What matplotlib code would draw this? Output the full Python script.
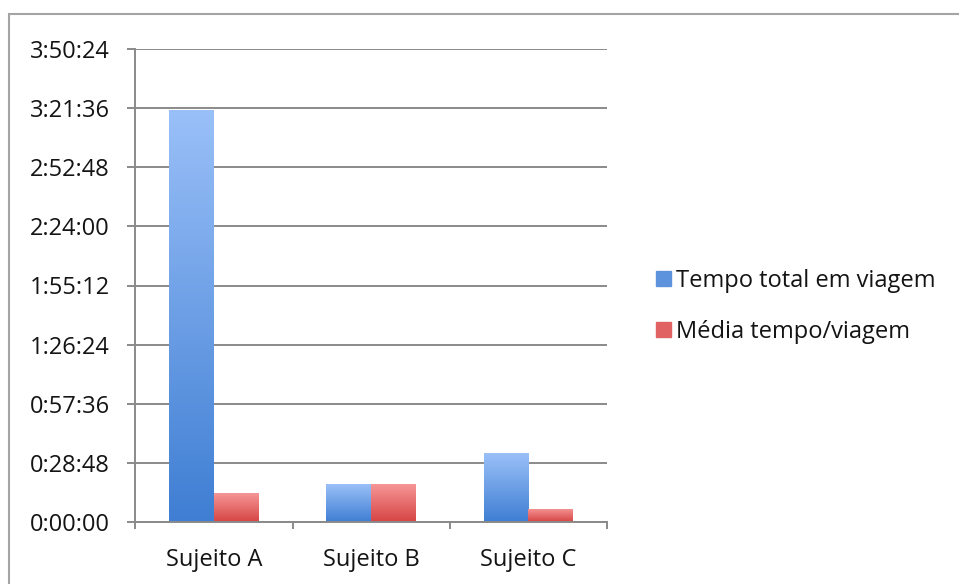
import matplotlib
matplotlib.use("Agg")
import matplotlib.pyplot as plt
import numpy as np
from matplotlib.patches import Rectangle
from matplotlib.ticker import FuncFormatter, FixedLocator
from matplotlib.colors import LinearSegmentedColormap

# Data (seconds)
categories = ["Sujeito A", "Sujeito B", "Sujeito C"]
series_names = ["Tempo total em viagem", "Média tempo/viagem"]
tempo_total = [12045, 1100, 2010]
media_tempo = [840, 1100, 380]
y_ticks = [0, 1728, 3456, 5184, 6912, 8640, 10368, 12096, 13824]

plt.rcParams['font.family'] = ['Open Sans', 'DejaVu Sans']
FS = 17

fig = plt.figure(figsize=(9.59, 5.84), dpi=100)
W, H = 959, 584
ax = fig.add_axes([135.3 / W, 1 - 522 / H, (607 - 135.3) / W, (522 - 49) / H])

x = np.arange(len(categories))
bw = 0.284
blue_grad = ("#9ac0f8", "#3f7ed3")
red_grad = ("#f69696", "#d64444")

b1 = ax.bar(x - bw / 2, tempo_total, bw, color=blue_grad[1], zorder=3, label=series_names[0])
b2 = ax.bar(x + bw / 2, media_tempo, bw, color=red_grad[1], zorder=3, label=series_names[1])

def grad_fill(bars, cols):
    cmap = LinearSegmentedColormap.from_list("g", [cols[1], cols[0]])
    grad = np.linspace(0, 1, 256).reshape(-1, 1)
    for p in bars:
        x0, y0 = p.get_x(), p.get_y()
        w, h = p.get_width(), p.get_height()
        im = ax.imshow(grad, cmap=cmap, aspect='auto', origin='lower',
                       extent=(x0, x0 + w, y0, y0 + h), zorder=4)
        im.set_clip_path(p)

grad_fill(b1, blue_grad)
grad_fill(b2, red_grad)

ax.set_xlim(-0.5, 2.5)
ax.set_ylim(0, 13824)
ax.set_yticks(y_ticks)

def fmt(v, pos):
    v = int(round(v))
    return f"{v // 3600}:{(v % 3600) // 60:02d}:{v % 60:02d}"

ax.yaxis.set_major_formatter(FuncFormatter(fmt))
ax.set_xticks(x)
ax.set_xticklabels(categories)
ax.xaxis.set_minor_locator(FixedLocator([-0.5, 0.5, 1.5, 2.5]))

gc = "#8a8a8a"
ax.grid(axis='y', color=gc, lw=1.4, zorder=0)
ax.set_axisbelow(True)
for s in ['top', 'right']:
    ax.spines[s].set_visible(False)
for s in ['left', 'bottom']:
    ax.spines[s].set_color(gc)
    ax.spines[s].set_linewidth(1.4)
    ax.spines[s].set_zorder(5)

ax.tick_params(axis='y', direction='out', length=6, width=1.4, color=gc,
               pad=12.5, labelsize=FS, labelcolor='#141414')
ax.tick_params(axis='x', which='major', length=0, pad=19, labelsize=FS, labelcolor='#141414')
ax.tick_params(axis='x', which='minor', direction='out', length=5, width=1.4, color=gc)

leg = fig.legend(handles=[b1, b2], labels=series_names, loc='center left',
                 bbox_to_anchor=(656 / W, 1 - 306.5 / H), frameon=False,
                 fontsize=FS, handlelength=0.62, handleheight=0.6,
                 handletextpad=0.22, labelspacing=1.17, borderpad=0, borderaxespad=0)
for t in leg.get_texts():
    t.set_color('#141414')
leg.legend_handles[0].set_color("#5d93dc")
leg.legend_handles[1].set_color("#e06262")

# outer frame
fig.patches.append(Rectangle((9 / W, -0.1), 2, 1.1 - 14 / H, transform=fig.transFigure,
                             fill=False, edgecolor='#a4a4a4', lw=1.5))

fig.savefig("out.png", dpi=100)
